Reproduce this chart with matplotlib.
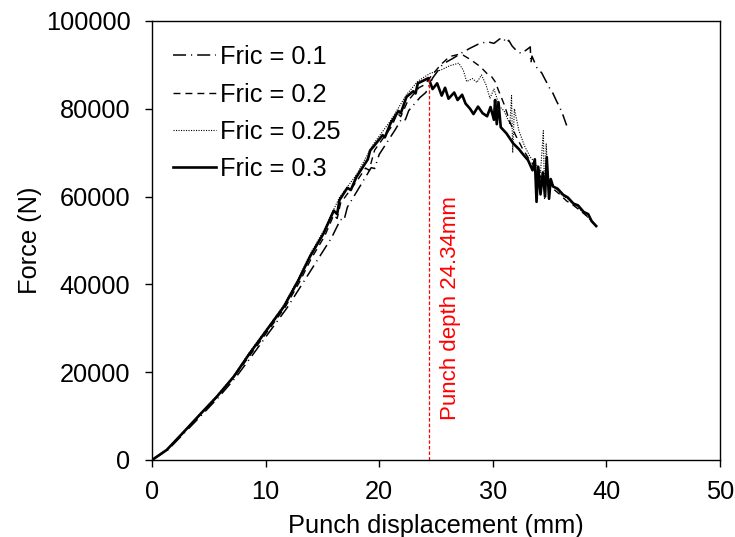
import matplotlib
matplotlib.use('Agg')
import matplotlib.pyplot as plt

plt.rcParams['font.family'] = ['Liberation Sans', 'DejaVu Sans']
plt.rcParams['lines.scale_dashes'] = False

# Fric = 0.1 (dash-dot)
x01 = [0, 1.4, 2.9, 4.4, 5.9, 7.4, 8.9, 10.4, 11.9, 13.3, 14.5, 15.8, 16.6, 16.9, 17.2, 18.6,
       19.3, 19.6, 20.0, 21.4, 22.0, 22.3, 22.6, 23.6, 24.1, 24.7, 25.6, 26.5, 27.3, 28.0,
       28.7, 29.5, 30.1, 30.6, 30.9, 31.2, 31.4, 31.7, 32.1, 32.5, 33.0, 33.3, 33.35, 33.45,
       33.9, 34.3, 34.7, 35.0, 35.3, 35.6, 35.9, 36.2, 36.5]
f01 = [0, 2300, 6300, 10300, 14400, 18900, 24100, 29400, 34700, 40400, 45300, 50600, 54800,
       54600, 57600, 63600, 66600, 66400, 69600, 75200, 77800, 77500, 79600, 82600, 83700,
       87000, 90200, 91500, 92800, 93800, 94700, 95300, 94900, 95900, 96200, 95000, 95600,
       94300, 93200, 92600, 93500, 94100, 90400, 92000, 89200, 88200, 86200, 84700, 83500,
       81800, 80300, 78400, 76200]

# Fric = 0.2 (dashed)
x02 = [0, 1.3, 2.8, 4.2, 5.7, 7.2, 8.7, 10.2, 11.7, 13.0, 14.0, 15.2, 16.0, 16.3, 16.6, 18.1,
       18.8, 19.1, 19.6, 21.1, 21.6, 21.9, 22.5, 23.5, 24.0, 24.5, 25.4, 26.2, 27.0, 27.4,
       28.1, 28.9, 29.5, 29.9, 30.2, 30.5, 31.0, 31.5, 32.0, 32.6, 33.2, 33.8, 34.3, 34.8,
       35.3, 35.9, 36.5, 37.1, 37.7, 38.3, 38.8, 39.2]
f02 = [0, 2300, 6300, 10200, 14300, 18900, 24100, 29400, 34700, 40600, 45800, 51000, 55800,
       55000, 58500, 63800, 66500, 66000, 70600, 76000, 79000, 78200, 81700, 84800, 85500,
       87200, 90000, 91900, 92400, 92200, 91100, 89600, 88000, 87300, 86200, 84200, 81000,
       77000, 74000, 71000, 68500, 66500, 64000, 63000, 61800, 60500, 59000, 58000, 56800,
       55500, 54200, 53000]

# Fric = 0.25 (dotted)
x025 = [0, 1.3, 2.8, 4.2, 5.7, 7.2, 8.6, 10.1, 11.6, 12.9, 13.9, 15.1, 16.5, 18.0, 19.5,
        21.0, 22.4, 23.4, 24.5, 25.4, 26.2, 27.0, 27.4, 27.7, 28.2, 28.6, 29.0, 29.4, 29.75,
        30.1, 30.6, 31.0, 31.5, 31.65, 31.75, 31.9, 32.3, 32.8, 33.3, 33.8, 34.2, 34.45,
        34.55, 34.7, 34.9, 35.1, 35.5, 36.0, 36.6, 37.2, 37.8, 38.4, 39.0, 39.2]
f025 = [0, 2400, 6500, 10400, 14600, 19200, 24600, 29900, 35300, 41400, 46800, 52200, 59800,
        65000, 72000, 77300, 83200, 86300, 88100, 88800, 89800, 90400, 88800, 86200, 86900,
        86000, 87700, 85500, 82400, 84500, 80500, 79500, 76500, 83000, 70000, 80000, 75000,
        71500, 69000, 67500, 65500, 75000, 59300, 72000, 62000, 63500, 62000, 60500, 59500,
        58000, 56800, 55200, 53500, 52800]

# Fric = 0.3 (solid)
x03 = [0, 1.3, 2.8, 4.2, 5.7, 7.2, 8.6, 10.1, 11.6, 12.9, 13.9, 15.1, 16.0, 16.3, 16.5, 17.2,
       17.5, 18.0, 19.0, 19.2, 19.5, 20.3, 20.5, 21.0, 21.7, 21.9, 22.4, 23.0, 23.2, 23.4,
       24.34, 24.7, 25.1, 25.5, 25.8, 26.1, 26.6, 26.9, 27.3, 27.6, 28.0, 28.3, 28.7, 29.1,
       29.5, 29.8, 30.1, 30.2, 30.35, 30.5, 30.7, 31.2, 31.8, 32.3, 32.7, 33.1, 33.5, 33.7,
       33.85, 34.0, 34.2, 34.4, 34.6, 34.75, 34.95, 35.1, 35.3, 35.7, 36.2, 36.6, 37.1, 37.5,
       38.0, 38.4, 38.7, 39.1]
f03 = [0, 2300, 6400, 10300, 14400, 19000, 24300, 29600, 34900, 41000, 46300, 51600, 56800,
       56000, 59200, 62000, 61500, 64500, 68500, 70500, 71400, 74000, 73500, 76700, 79500,
       79000, 82700, 84000, 83500, 85800, 87000, 84500, 85800, 83000, 84800, 82300, 83700,
       82000, 83200, 81200, 80000, 78800, 80500, 79000, 78300, 80400, 77500, 82000, 76500,
       81500, 75800, 74400, 72100, 70800, 69500, 68300, 66000, 68500, 58800, 66800, 60500,
       65500, 60000, 69000, 59500, 64000, 62300, 61800, 60400, 59800, 58400, 58000, 56500,
       56000, 54400, 53300]

punch_depth = 24.34
peak_force = 87000

fig = plt.figure(figsize=(7.35, 5.37), dpi=100)
ax = fig.add_axes([0.2068, 0.1434, 0.7728, 0.8175])

ax.plot(x01, f01, color='black', lw=1.1, dashes=(9.4, 3.6, 0.8, 3.6), label='Fric = 0.1')
ax.plot(x02, f02, color='black', lw=1.0, dashes=(5, 3.6), label='Fric = 0.2')
ax.plot(x025, f025, color='black', lw=0.8, dashes=(0.8, 1.0), label='Fric = 0.25')
ax.plot(x03, f03, color='black', lw=1.9, label='Fric = 0.3')

# 冲头深度标记
ax.plot([punch_depth, punch_depth], [0, peak_force], color='red', lw=0.9, dashes=(2.5, 1.5))
ax.text(punch_depth + 1.0, 9000, 'Punch depth 24.34mm', color='red', fontsize=16,
        rotation=90, ha='left', va='bottom')

fs = 18.3
ax.set_xlim(0, 50)
ax.set_ylim(0, 100000)
ax.set_xticks([0, 10, 20, 30, 40, 50])
ax.set_yticks([0, 20000, 40000, 60000, 80000, 100000])
ax.tick_params(direction='out', length=5, width=1, labelsize=fs)
ax.tick_params(axis='x', pad=9.5)
ax.tick_params(axis='y', pad=10.5)
for s in ax.spines.values():
    s.set_linewidth(1)
ax.set_xlabel('Punch displacement (mm)', fontsize=fs, labelpad=7)
ax.set_ylabel('Force (N)', fontsize=fs, labelpad=3)

ax.legend(loc='upper left', frameon=False, fontsize=fs, handlelength=1.7,
          handletextpad=0.15, labelspacing=0.52, borderaxespad=0.3,
          bbox_to_anchor=(0.005, 0.985))

fig.savefig('out.png', dpi=100)
